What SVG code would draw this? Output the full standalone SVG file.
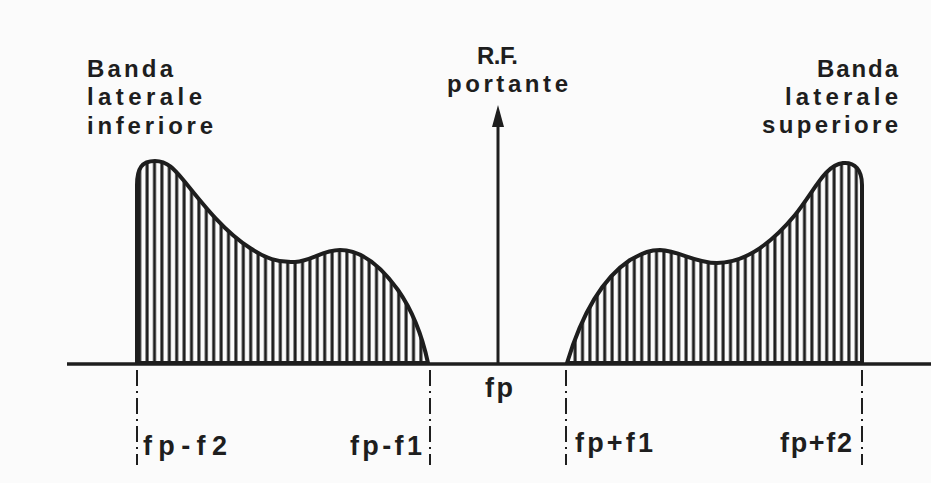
<svg xmlns="http://www.w3.org/2000/svg" width="931" height="483" viewBox="0 0 931 483">
<defs>
<pattern id="hatch" patternUnits="userSpaceOnUse" x="136" y="0" width="7.4" height="20">
<line x1="3.7" y1="0" x2="3.7" y2="20" stroke="#1e1e1e" stroke-width="3"/>
</pattern>
<pattern id="hatch2" patternUnits="userSpaceOnUse" x="564" y="0" width="7.4" height="20">
<line x1="3.7" y1="0" x2="3.7" y2="20" stroke="#1e1e1e" stroke-width="3"/>
</pattern>
</defs>
<style>
.t{font-family:"Liberation Sans",Arial,sans-serif;font-weight:bold;font-size:24px;fill:#1e1e1e}
.s{font-family:"Liberation Sans",Arial,sans-serif;font-weight:bold;font-size:27px;fill:#1e1e1e}
.band{stroke:#1e1e1e;stroke-width:4;stroke-linejoin:round}
.dd{stroke:#1e1e1e;stroke-width:2;stroke-dasharray:16 5 2 5;fill:none}
</style>
<rect width="931" height="483" fill="#fbfbfb"/>
<g id="lower-band">
<path class="band" fill="url(#hatch)" d="M137,363 L137,185 C137,168 142,161 155,161 C168,161 175,170 185,182 C205,207 225,232 250,248 C265,258 278,263 295,262 C312,261 322,250 340,250 C360,250 380,265 398,290 C412,310 422,335 428,363 Z"/>
<text class="t" x="87" y="77" textLength="86" lengthAdjust="spacing">Banda</text>
<text class="t" x="87" y="105" textLength="115" lengthAdjust="spacing">laterale</text>
<text class="t" x="87" y="134" textLength="126" lengthAdjust="spacing">inferiore</text>
</g>
<g id="upper-band">
<path class="band" fill="url(#hatch2)" d="M567,363 C580,320 600,280 630,260 C645,252 650,250 660,250 C680,251 695,263 717,263 C745,263 770,245 795,215 C815,190 825,165 843,163 C855,162 862,170 862,185 L862,363 Z"/>
<text class="t" x="817" y="77" textLength="81" lengthAdjust="spacing">Banda</text>
<text class="t" x="785" y="105" textLength="113" lengthAdjust="spacing">laterale</text>
<text class="t" x="762" y="133" textLength="136" lengthAdjust="spacing">superiore</text>
</g>
<g id="carrier">
<line x1="498" y1="364" x2="498" y2="122" stroke="#1e1e1e" stroke-width="3"/>
<polygon points="498,105 492,127 504,127" fill="#1e1e1e"/>
<text class="t" x="477" y="64" textLength="41" lengthAdjust="spacing">R.F.</text>
<text class="t" x="447" y="92" textLength="121" lengthAdjust="spacing">portante</text>
<text class="s" x="485" y="397" textLength="28" lengthAdjust="spacing">fp</text>
</g>
<g id="connectors">
<line x1="67" y1="364" x2="931" y2="364" stroke="#1e1e1e" stroke-width="3.5"/>
<line class="dd" x1="137" y1="370" x2="137" y2="465"/>
<line class="dd" x1="430" y1="370" x2="430" y2="465"/>
<line class="dd" x1="566" y1="370" x2="566" y2="465"/>
<line class="dd" x1="862" y1="370" x2="862" y2="465"/>
</g>
<g id="labels">
<text class="s" x="143" y="455" textLength="84" lengthAdjust="spacing">fp-f2</text>
<text class="s" x="350" y="455" textLength="72" lengthAdjust="spacing">fp-f1</text>
<text class="s" x="575" y="452" textLength="78" lengthAdjust="spacing">fp+f1</text>
<text class="s" x="780" y="452" textLength="72" lengthAdjust="spacing">fp+f2</text>
</g>
</svg>
